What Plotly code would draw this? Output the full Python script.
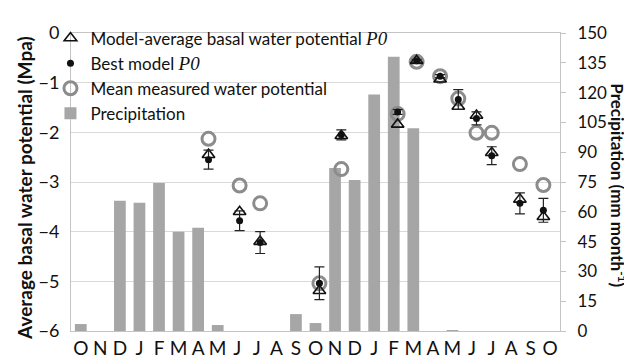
import plotly.graph_objects as go

# Categories (months) along x axis
months = ["O", "N", "D", "J", "F", "M", "A", "M", "J", "J", "A", "S", "O",
          "N", "D", "J", "F", "M", "A", "M", "J", "J", "A", "S", "O"]
month_pos = list(range(len(months)))

# Monthly precipitation (mm month-1)
precip = [3.5, 0, 65.5, 64.5, 74.5, 50, 52, 3, 0, 0, 0, 8.5, 4,
          82, 76, 119, 138, 102, 0, 0.5, 0, 0, 0, 0, 0]

# Sampling positions (in month units along the axis)
sample_pos = [6.53, 8.12, 9.17, 12.20, 13.32, 16.20, 17.17, 18.37, 19.30,
              20.23, 21.01, 22.45, 23.65]
measured = [-2.13, -3.07, -3.43, -5.04, -2.74, -1.63, -0.58, -0.87, -1.32,
            -2.01, -2.01, -2.64, -3.06]
model_avg = [-2.45, -3.60, -4.20, -5.19, -2.07, -1.84, -0.56, -0.93, -1.48,
             -1.66, -2.41, -3.35, -3.70]
best_model = [-2.55, -3.78, -4.22, -5.04, -2.05, -1.59, -0.56, -0.87, -1.34,
              -1.72, -2.47, -3.43, -3.57]
best_err = [0.19, 0.20, 0.22, 0.33, 0.10, 0.05, 0.03, 0.03, 0.20, 0.13,
            0.18, 0.21, 0.24]

FONT = "Lato"
P0 = "<span style=\"font-family:'Liberation Serif',serif;font-style:italic;font-size:19px\">P0</span>"

fig = go.Figure()
fig.add_trace(go.Bar(
    x=month_pos, y=precip, width=0.6, name="Precipitation",
    marker=dict(color="#a6a6a6", line=dict(width=0)),
    xaxis="x", yaxis="y", legendrank=4, legendgroup="d"))
fig.add_trace(go.Scatter(
    x=sample_pos, y=measured, mode="markers", name="Mean measured water potential",
    marker=dict(symbol="circle-open", size=13, color="#8c8c8c", line=dict(width=3, color="#8c8c8c")),
    xaxis="x", yaxis="y2", legendrank=3, legendgroup="c"))
fig.add_trace(go.Scatter(
    x=sample_pos, y=model_avg, mode="markers",
    name="Model-average basal water potential " + P0,
    marker=dict(symbol="triangle-up-open", size=11, color="#111", line=dict(width=1.6, color="#111")),
    xaxis="x", yaxis="y2", legendrank=1, legendgroup="a"))
fig.add_trace(go.Scatter(
    x=sample_pos, y=best_model, mode="markers", name="Best model " + P0,
    marker=dict(symbol="circle", size=7, color="#111"),
    error_y=dict(type="data", array=best_err, visible=True, color="#222", thickness=1.2, width=5),
    xaxis="x", yaxis="y2", legendrank=2, legendgroup="b"))

grid = "#d9d9d9"
axline = "#c4c4c4"
fig.update_layout(
    width=632, height=363,
    margin=dict(l=63, r=80, t=18, b=30),
    paper_bgcolor="white", plot_bgcolor="white",
    font=dict(family=FONT, size=17, color="#111"),
    showlegend=True,
    legend=dict(x=-0.042, y=1.042, xanchor="left", yanchor="top", bgcolor="rgba(0,0,0,0)",
                font=dict(size=17, family=FONT), itemwidth=30, tracegroupgap=0,
                traceorder="grouped"),
    xaxis=dict(range=[-0.5, 24.5], tickmode="array", tickvals=month_pos, ticktext=months,
               showgrid=False, showline=True, linecolor=axline, mirror=True,
               ticks="", tickfont=dict(size=19), zeroline=False),
    yaxis=dict(range=[0, 150], dtick=15, side="right", showgrid=False, zeroline=False,
               showline=True, linecolor=axline, ticks="outside", ticklen=5, tickcolor=axline,
               ticklabelstandoff=8, tickfont=dict(size=17)),
    yaxis2=dict(range=[-6, 0], dtick=1, side="left", overlaying="y", showgrid=True,
                gridcolor=grid, zeroline=False, showline=True, linecolor=axline,
                ticks="", ticklabelstandoff=7, tickfont=dict(size=18)),
    annotations=[
        dict(text="<b>Average basal water potential (Mpa)</b>", xref="paper", yref="paper",
             x=-0.094, y=0.48, xanchor="center", yanchor="middle", textangle=-90,
             showarrow=False, font=dict(size=19, family=FONT, color="#111")),
        dict(text="<b>Precipitation (mm month<sup>-1</sup>)</b>", xref="paper", yref="paper",
             x=1.118, y=0.49, xanchor="center", yanchor="middle", textangle=90,
             showarrow=False, font=dict(size=17, family=FONT, color="#111")),
    ],
)

fig.write_html("out.html")
